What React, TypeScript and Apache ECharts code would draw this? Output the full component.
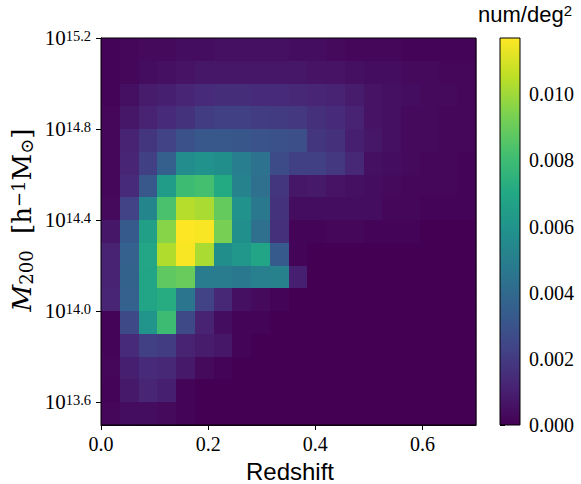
import React, { useEffect, useRef } from 'react';
import * as echarts from 'echarts';

// Redshift bin edges (x)
const redshiftEdges = [0.0, 0.035, 0.07, 0.105, 0.14, 0.175, 0.21, 0.245, 0.28, 0.315, 0.35, 0.385, 0.42, 0.455, 0.49, 0.525, 0.56, 0.595, 0.63, 0.665, 0.7];
// log10 mass bin edges (y)
const massEdges = [13.5, 13.6, 13.7, 13.8, 13.9, 14.0, 14.1, 14.2, 14.3, 14.4, 14.5, 14.6, 14.7, 14.8, 14.9, 15.0, 15.1, 15.2];

// number density (num/deg^2); rows from the top mass bin (15.1-15.2) down to the bottom (13.5-13.6)
const row15_1 = [0.0001, 0.0002, 0.0003, 0.0003, 0.0004, 0.0004, 0.0005, 0.0005, 0.0005, 0.0005, 0.0004, 0.0004, 0.0003, 0.0002, 0.0002, 0.0002, 0.0001, 0.0001, 0.0001, 0.0001];
const row15_0 = [0.0001, 0.0002, 0.0004, 0.0005, 0.0006, 0.0007, 0.0007, 0.0007, 0.0007, 0.0007, 0.0007, 0.0006, 0.0006, 0.0005, 0.0004, 0.0004, 0.0003, 0.0003, 0.0002, 0.0002];
const row14_9 = [0.0001, 0.0005, 0.0009, 0.001, 0.0012, 0.0014, 0.0015, 0.0015, 0.0014, 0.0014, 0.0013, 0.0012, 0.0011, 0.0009, 0.0006, 0.0005, 0.0004, 0.0003, 0.0003, 0.0002];
const row14_8 = [0.0002, 0.0007, 0.0011, 0.0014, 0.0017, 0.0021, 0.0022, 0.0022, 0.0021, 0.002, 0.0019, 0.0016, 0.0014, 0.0011, 0.0006, 0.0005, 0.0003, 0.0003, 0.0002, 0.0002];
const row14_7 = [0.0002, 0.0011, 0.0018, 0.0023, 0.0029, 0.0032, 0.0032, 0.0031, 0.003, 0.0029, 0.0028, 0.0018, 0.0016, 0.001, 0.0007, 0.0005, 0.0003, 0.0003, 0.0002, 0.0002];
const row14_6 = [0.0002, 0.0012, 0.0022, 0.0035, 0.0056, 0.0059, 0.0057, 0.0049, 0.0044, 0.0027, 0.0022, 0.0022, 0.0019, 0.0013, 0.0005, 0.0004, 0.0003, 0.0002, 0.0002, 0.0001];
const row14_5 = [0.0002, 0.0014, 0.0032, 0.0064, 0.008, 0.0082, 0.0071, 0.0052, 0.0043, 0.0018, 0.0007, 0.0008, 0.0006, 0.0005, 0.0004, 0.0003, 0.0002, 0.0002, 0.0002, 0.0001];
const row14_4 = [0.0003, 0.0023, 0.0053, 0.0083, 0.0104, 0.0102, 0.0089, 0.0059, 0.0047, 0.0017, 0.0004, 0.0004, 0.0004, 0.0004, 0.0004, 0.0002, 0.0002, 0.0001, 0.0001, 0.0001];
const row14_3 = [0.0007, 0.0033, 0.0066, 0.0096, 0.0117, 0.0116, 0.0093, 0.0058, 0.0043, 0.0016, 0.0001, 0.0001, 0.0002, 0.0002, 0.0001, 0.0001, 0.0001, 0.0, 0.0, 0.0];
const row14_2 = [0.0011, 0.0036, 0.0069, 0.0103, 0.0116, 0.0102, 0.0057, 0.0061, 0.0068, 0.0033, 0.0001, 0.0, 0.0, 0.0, 0.0, 0.0, 0.0, 0.0, 0.0, 0.0];
const row14_1 = [0.0011, 0.0037, 0.0068, 0.0088, 0.009, 0.0048, 0.0048, 0.0047, 0.005, 0.0051, 0.001, 0.0, 0.0, 0.0, 0.0, 0.0, 0.0, 0.0, 0.0, 0.0];
const row14_0 = [0.0012, 0.0036, 0.0068, 0.0072, 0.0046, 0.0023, 0.0013, 0.0005, 0.0003, 0.0001, 0.0, 0.0, 0.0, 0.0, 0.0, 0.0, 0.0, 0.0, 0.0, 0.0];
const row13_9 = [0.0001, 0.0026, 0.006, 0.008, 0.0026, 0.0011, 0.0004, 0.0001, 0.0001, 0.0, 0.0, 0.0, 0.0, 0.0, 0.0, 0.0, 0.0, 0.0, 0.0, 0.0];
const row13_8 = [0.0001, 0.0014, 0.0022, 0.0021, 0.0011, 0.0009, 0.0007, 0.0001, 0.0, 0.0, 0.0, 0.0, 0.0, 0.0, 0.0, 0.0, 0.0, 0.0, 0.0, 0.0];
const row13_7 = [0.0002, 0.001, 0.0014, 0.0013, 0.0008, 0.0003, 0.0001, 0.0, 0.0, 0.0, 0.0, 0.0, 0.0, 0.0, 0.0, 0.0, 0.0, 0.0, 0.0, 0.0];
const row13_6 = [0.0001, 0.0008, 0.0012, 0.001, 0.0001, 0.0, 0.0, 0.0, 0.0, 0.0, 0.0, 0.0, 0.0, 0.0, 0.0, 0.0, 0.0, 0.0, 0.0, 0.0];
const row13_5 = [0.0002, 0.0004, 0.0004, 0.0003, 0.0001, 0.0, 0.0, 0.0, 0.0, 0.0, 0.0, 0.0, 0.0, 0.0, 0.0, 0.0, 0.0, 0.0, 0.0, 0.0];

const densityRowsTopDown = [row15_1, row15_0, row14_9, row14_8, row14_7, row14_6, row14_5, row14_4, row14_3, row14_2, row14_1, row14_0, row13_9, row13_8, row13_7, row13_6, row13_5];

const xTicks = [0.0, 0.2, 0.4, 0.6];
const yTicks = [13.6, 14.0, 14.4, 14.8, 15.2];
const cbarTicks = [0.0, 0.002, 0.004, 0.006, 0.008, 0.01];
const cbarMax = 0.0117;

const viridis = ['#440154', '#482475', '#414487', '#355f8d', '#2a788e', '#21918c', '#22a884', '#44bf70', '#7ad151', '#bddf26', '#fde725'];

const SERIF = '"Liberation Serif", "DejaVu Serif", serif';
const TITLE_SERIF = '"DejaVu Serif", "Liberation Serif", serif';
const SANS = '"Liberation Sans", "DejaVu Sans", sans-serif';

function buildCells() {
  const cells: number[][] = [];
  const nRows = densityRowsTopDown.length;
  densityRowsTopDown.forEach((row, r) => {
    const mLow = massEdges[nRows - 1 - r];
    const mHigh = massEdges[nRows - r];
    row.forEach((v, c) => {
      cells.push([redshiftEdges[c], redshiftEdges[c + 1], mLow, mHigh, v]);
    });
  });
  return cells;
}

export default function App() {
  const ref = useRef<HTMLDivElement>(null);
  useEffect(() => {
    if (!ref.current) return;
    const chart = echarts.init(ref.current, undefined, { renderer: 'svg' });
    const cells = buildCells();
    const gradStops = viridis.map((c, i) => ({ offset: i / (viridis.length - 1), color: c }));

    chart.setOption({
      animation: false,
      backgroundColor: '#ffffff',
      grid: [
        { left: 101, top: 38, width: 375, height: 387, show: true, borderColor: '#000', borderWidth: 1, backgroundColor: 'transparent', z: 5 },
        { left: 500, top: 38, width: 20, height: 387, show: false },
      ],
      xAxis: [
        {
          type: 'value', gridIndex: 0, min: 0, max: 0.7,
          axisLine: { show: true, lineStyle: { color: '#000', width: 1 } },
          axisTick: { show: true, customValues: xTicks, length: 5, lineStyle: { color: '#000', width: 1 } },
          axisLabel: { customValues: xTicks, formatter: (v: number) => v.toFixed(1), fontFamily: SERIF, fontSize: 20, color: '#000', margin: 9 },
          splitLine: { show: false },
        },
        { type: 'value', gridIndex: 1, min: 0, max: 1, show: false },
      ],
      yAxis: [
        {
          type: 'value', gridIndex: 0, min: 13.5, max: 15.2,
          axisLine: { show: true, lineStyle: { color: '#000', width: 1 } },
          axisTick: { show: true, customValues: yTicks, length: 5, lineStyle: { color: '#000', width: 1 } },
          axisLabel: {
            customValues: yTicks,
            formatter: (v: number) => `{b|10}{s|${v.toFixed(1)}}`,
            margin: 10,
            rich: {
              b: { fontFamily: SERIF, fontSize: 21, lineHeight: 20, verticalAlign: 'bottom', color: '#000' },
              s: { fontFamily: SERIF, fontSize: 14.5, lineHeight: 14, verticalAlign: 'top', padding: [0, 0, 9, 0], color: '#000' },
            },
          },
          splitLine: { show: false },
        },
        {
          type: 'value', gridIndex: 1, min: 0, max: cbarMax, position: 'right',
          axisLine: { show: false },
          axisTick: { show: true, customValues: cbarTicks, length: 5, lineStyle: { color: '#000', width: 1 } },
          axisLabel: { customValues: cbarTicks, formatter: (v: number) => v.toFixed(3), fontFamily: SERIF, fontSize: 20, color: '#000', margin: 9 },
          splitLine: { show: false },
        },
      ],
      visualMap: {
        type: 'continuous', show: false, min: 0, max: cbarMax, dimension: 4, seriesIndex: 0,
        inRange: { color: viridis },
      },
      series: [
        {
          type: 'custom', xAxisIndex: 0, yAxisIndex: 0, z: 2,
          encode: { x: [0, 1], y: [2, 3] },
          data: cells,
          renderItem: (params: any, api: any) => {
            const p1 = api.coord([api.value(0), api.value(3)]);
            const p2 = api.coord([api.value(1), api.value(2)]);
            const x0 = Math.round(p1[0]);
            const y0 = Math.round(p1[1]);
            const x1 = Math.round(p2[0]);
            const y1 = Math.round(p2[1]);
            const color = api.visual('color');
            return {
              type: 'rect',
              shape: { x: x0, y: y0, width: x1 - x0 + 0.4, height: y1 - y0 + 0.4 },
              style: { fill: color },
            };
          },
        },
        {
          type: 'custom', xAxisIndex: 1, yAxisIndex: 1, z: 2,
          encode: { x: [0, 1], y: [2, 3] },
          data: [[0, 1, 0, cbarMax]],
          renderItem: (params: any, api: any) => {
            const p1 = api.coord([api.value(0), api.value(3)]);
            const p2 = api.coord([api.value(1), api.value(2)]);
            return {
              type: 'rect',
              shape: { x: p1[0], y: p1[1], width: p2[0] - p1[0], height: p2[1] - p1[1] },
              style: {
                fill: new echarts.graphic.LinearGradient(0, 1, 0, 0, gradStops),
                stroke: '#000', lineWidth: 1,
              },
            };
          },
        },
      ],
      graphic: [
        {
          type: 'text', x: 290, y: 471,
          style: { text: 'Redshift', font: `24px ${SANS}`, fill: '#000', align: 'center', verticalAlign: 'middle' },
        },
        {
          type: 'text', x: 525, y: 14,
          style: {
            text: '{a|num/deg}{s|2}', align: 'center', verticalAlign: 'middle', fill: '#000',
            rich: {
              a: { fontFamily: SANS, fontSize: 22, lineHeight: 22, verticalAlign: 'bottom' },
              s: { fontFamily: SANS, fontSize: 15, lineHeight: 15, verticalAlign: 'top', padding: [0, 0, 8, 0] },
            },
          },
        },
        {
          type: 'text', x: 22, y: 220, rotation: Math.PI / 2,
          style: {
            text: '{m|M}{sub|200}{r|  [h}{sup|−1}{r|M}{sub|⊙}{r|]}', align: 'center', verticalAlign: 'middle', fill: '#000',
            rich: {
              m: { fontFamily: TITLE_SERIF, fontSize: 26, fontStyle: 'italic', lineHeight: 26, verticalAlign: 'middle' },
              r: { fontFamily: TITLE_SERIF, fontSize: 26, lineHeight: 26, verticalAlign: 'middle' },
              sub: { fontFamily: TITLE_SERIF, fontSize: 18, lineHeight: 18, verticalAlign: 'bottom', padding: [12, 0, 0, 0] },
              sup: { fontFamily: TITLE_SERIF, fontSize: 18, lineHeight: 18, verticalAlign: 'top', padding: [0, 0, 12, 0] },
            },
          },
        },
      ],
    });
    return () => chart.dispose();
  }, []);
  return <div ref={ref} style={{ width: 581, height: 484, position: 'absolute', left: 0, top: 0 }} />;
}
